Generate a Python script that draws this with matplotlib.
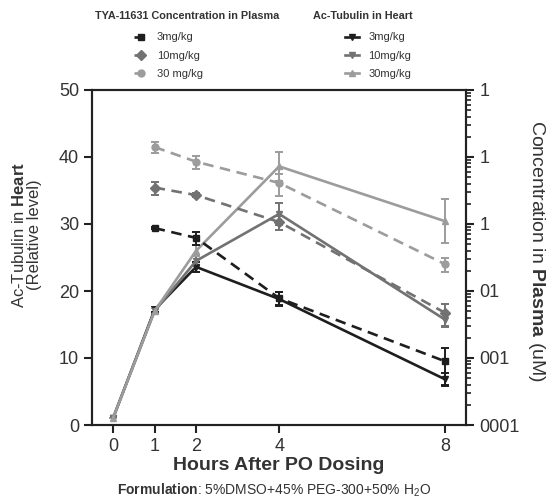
import matplotlib
matplotlib.use("Agg")
import matplotlib.pyplot as plt
from matplotlib.ticker import FixedLocator, FixedFormatter, LogLocator

plt.rcParams['font.family'] = ['Liberation Sans', 'DejaVu Sans']
plt.rcParams['mathtext.fontset'] = 'custom'
plt.rcParams['mathtext.rm'] = 'Liberation Sans'
plt.rcParams['mathtext.bf'] = 'Liberation Sans:bold'

# hours after dosing
hours_heart = [0, 1, 2, 4, 8]
hours_plasma = [1, 2, 4, 8]
doses = ['3mg/kg', '10mg/kg', '30mg/kg']
plasma_labels = ['3mg/kg', '10mg/kg', '30 mg/kg']

# Ac-Tubulin in heart (relative level)
heart_3 = [1.0, 17.2, 23.6, 18.8, 6.8]
heart_3_err = [0, 0.4, 0.8, 1.0, 1.0]
heart_10 = [1.0, 17.0, 24.5, 31.5, 15.7]
heart_10_err = [0, 0.4, 0.8, 1.6, 1.0]
heart_30 = [1.0, 17.0, 26.0, 38.6, 30.4]
heart_30_err = [0, 0.4, 0.8, 2.2, 3.3]

# TYA-11631 concentration in plasma (uM)
plasma_3 = [0.087, 0.062, 0.0078, 0.00089]
plasma_3_err = [0.003, 0.013, 0.0017, 0.0005]
plasma_10 = [0.35, 0.27, 0.107, 0.0047]
plasma_10_err = [0.08, 0.02, 0.025, 0.0017]
plasma_30 = [1.41, 0.85, 0.41, 0.025]
plasma_30_err = [0.27, 0.18, 0.15, 0.006]

right_ticks = [1e-4, 1e-3, 1e-2, 1e-1, 1, 10]
right_ticklabels = ['0001', '001', '01', '1', '1', '1']

colors = ['#1e1e1e', '#727272', '#9c9c9c']
text_color = '#333333'

fig = plt.figure(figsize=(5.49, 5.0), dpi=100)
ax = fig.add_axes([0.168, 0.15, 0.681, 0.67])
ax2 = ax.twinx()

heart_sets = [(heart_3, heart_3_err), (heart_10, heart_10_err), (heart_30, heart_30_err)]
heart_markers = ['v', 'v', '^']
heart_handles = []
for (vals, err), c, m in zip(heart_sets, colors, heart_markers):
    h = ax.errorbar(hours_heart, vals, yerr=err, color=c, lw=1.9, marker=m, ms=5,
                    capsize=3, elinewidth=1.4, capthick=1.4)
    heart_handles.append(h[0])

plasma_sets = [(plasma_3, plasma_3_err), (plasma_10, plasma_10_err), (plasma_30, plasma_30_err)]
plasma_markers = ['s', 'D', 'o']
plasma_handles = []
for (vals, err), c, m in zip(plasma_sets, colors, plasma_markers):
    h = ax2.errorbar(hours_plasma, vals, yerr=err, color=c, lw=1.9, ls=(0, (4, 2.5)),
                     marker=m, ms=5, capsize=3, elinewidth=1.4, capthick=1.4)
    plasma_handles.append(h[0])

ax.set_xlim(-0.5, 8.5)
ax.set_ylim(0, 50)
ax.set_xticks(hours_heart)
ax.set_yticks([0, 10, 20, 30, 40, 50])

ax2.set_yscale('log')
ax2.set_ylim(1e-4, 10)
ax2.yaxis.set_major_locator(FixedLocator(right_ticks))
ax2.yaxis.set_major_formatter(FixedFormatter(right_ticklabels))
ax2.yaxis.set_minor_locator(LogLocator(base=10, subs=range(2, 10)))
ax2.yaxis.set_minor_formatter(FixedFormatter([]))

for a in (ax, ax2):
    for s in a.spines.values():
        s.set_linewidth(1.5)
        s.set_color('#222222')
    a.tick_params(axis='both', which='major', length=6, width=1.5, labelsize=13,
                  colors='#222222', labelcolor=text_color)
ax2.tick_params(axis='y', which='minor', length=3.5, width=1.2, colors='#222222')

ax.set_xlabel('Hours After PO Dosing', fontsize=14, fontweight='bold', color=text_color, labelpad=1)

# axis titles placed by hand
fig.text(0.048, 0.53, 'Ac-Tubulin in $\\bf{Heart}$\n(Relative level)', rotation=90,
         ha='center', va='center', fontsize=12, color=text_color, linespacing=1.0,
         multialignment='center')
fig.text(0.977, 0.498, 'Concentration in $\\bf{Plasma}$ (uM)', rotation=270,
         ha='center', va='center', fontsize=14, color=text_color)

fig.text(0.5, 0.02, '$\\bf{Formulation}$: 5%DMSO+45% PEG-300+50% H$_2$O',
         ha='center', va='center', fontsize=10, color=text_color)

# legends
fig.text(0.34, 0.968, 'TYA-11631 Concentration in Plasma', ha='center', va='center',
         fontsize=7.8, fontweight='bold', color=text_color)
fig.text(0.66, 0.968, 'Ac-Tubulin in Heart', ha='center', va='center',
         fontsize=7.8, fontweight='bold', color=text_color)
leg1 = fig.legend(plasma_handles, plasma_labels, loc='upper left', bbox_to_anchor=(0.225, 0.955),
                  frameon=False, fontsize=8, handlelength=1.3, handletextpad=0.8, labelspacing=0.75,
                  labelcolor=text_color)
leg2 = fig.legend(heart_handles, doses, loc='upper left', bbox_to_anchor=(0.61, 0.955),
                  frameon=False, fontsize=8, handlelength=1.3, handletextpad=0.8, labelspacing=0.75,
                  labelcolor=text_color)

fig.savefig('out.png', dpi=100)
